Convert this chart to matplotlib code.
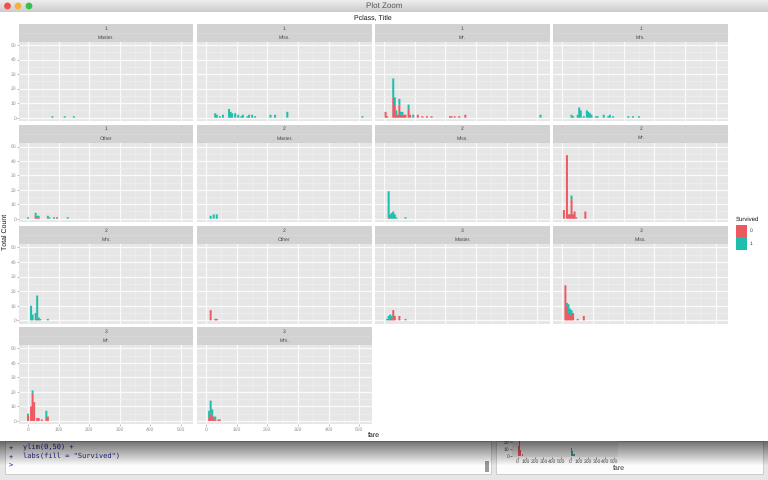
import numpy as np
import matplotlib
matplotlib.use("Agg")
import matplotlib.pyplot as plt
from matplotlib.patches import Rectangle, Circle

plt.rcParams['font.family'] = ['Liberation Sans', 'DejaVu Sans']
plt.rcParams['text.hinting'] = 'no_hinting'
plt.rcParams['text.hinting_factor'] = 1

W, H = 768, 480
RED, TEAL = '#EB5A63', '#1CBFAC'

# ---- data: fare bin, count died, count survived per panel ----
strip_class = ['1', '1', '1', '1', '1', '2', '2', '2', '2', '2', '3', '3', '3', '3']
strip_title = ['Master.', 'Miss.', 'Mr.', 'Mrs.', 'Other', 'Master.', 'Miss.', 'Mr.',
               'Mrs.', 'Other', 'Master.', 'Miss.', 'Mr.', 'Mrs.']

m1_fare = [80, 120, 150]
m1_died = [0, 0, 0]
m1_surv = [1, 1, 1]

ms1_fare = [30, 35, 45, 55, 75, 80, 85, 95, 105, 115, 120, 135, 140, 150, 160, 210, 225, 265, 510]
ms1_died = [0] * 19
ms1_surv = [3, 2, 1, 2, 6, 4, 3, 3, 2, 1, 2, 1, 2, 2, 1, 2, 2, 4, 1]

mr1_fare = [5, 10, 30, 35, 40, 45, 50, 55, 60, 65, 70, 80, 85, 95, 110, 125, 140, 155, 215, 220, 230, 245, 265, 510]
mr1_died = [4, 1, 14, 8, 2, 2, 9, 2, 2, 2, 2, 6, 2, 0, 2, 1, 1, 1, 1, 1, 1, 1, 2, 0]
mr1_surv = [0, 0, 13, 6, 3, 0, 4, 2, 2, 0, 0, 3, 0, 2, 0, 0, 0, 0, 0, 0, 0, 0, 0, 2]

mrs1_fare = [30, 35, 50, 55, 60, 70, 80, 85, 90, 95, 110, 115, 135, 150, 155, 165, 215, 230, 250]
mrs1_died = [0] * 19
mrs1_surv = [2, 1, 2, 7, 5, 1, 5, 4, 3, 2, 1, 1, 2, 1, 2, 1, 1, 1, 1]

o1_fare = [0, 25, 30, 35, 65, 70, 85, 95, 130]
o1_died = [0, 2, 1, 1, 1, 0, 0, 1, 0]
o1_surv = [1, 2, 1, 1, 1, 1, 1, 0, 1]

m2_fare = [15, 25, 35]
m2_died = [0, 0, 0]
m2_surv = [2, 3, 3]

ms2_fare = [15, 20, 25, 30, 35, 40, 70]
ms2_died = [1, 0, 0, 0, 0, 0, 0]
ms2_surv = [18, 3, 4, 5, 3, 1, 1]

mr2_fare = [5, 15, 20, 25, 30, 35, 40, 45, 75]
mr2_died = [6, 44, 3, 3, 13, 3, 5, 1, 5]
mr2_surv = [0, 0, 0, 0, 3, 0, 0, 0, 0]

mrs2_fare = [10, 15, 25, 30, 35, 40, 65]
mrs2_died = [0, 0, 1, 2, 0, 0, 0]
mrs2_surv = [10, 4, 4, 15, 2, 1, 1]

o2_fare = [15, 30, 35]
o2_died = [7, 1, 1]
o2_surv = [0, 0, 0]

m3_fare = [10, 15, 20, 25, 30, 35, 50, 70]
m3_died = [0, 0, 1, 2, 7, 3, 3, 0]
m3_surv = [1, 3, 3, 1, 0, 0, 0, 1]

ms3_fare = [10, 15, 20, 25, 30, 35, 50, 70]
ms3_died = [24, 10, 5, 3, 5, 5, 1, 3]
ms3_surv = [0, 2, 6, 5, 2, 0, 0, 0]

mr3_fare = [0, 10, 15, 20, 30, 35, 45, 60, 65]
mr3_died = [4, 10, 19, 13, 2, 2, 1, 2, 3]
mr3_surv = [1, 0, 2, 0, 0, 0, 0, 5, 0]

mrs3_fare = [10, 15, 20, 25, 30, 40, 45]
mrs3_died = [2, 5, 4, 2, 1, 1, 1]
mrs3_surv = [5, 9, 4, 1, 2, 0, 0]

panel_data = [
    (m1_fare, m1_died, m1_surv), (ms1_fare, ms1_died, ms1_surv),
    (mr1_fare, mr1_died, mr1_surv), (mrs1_fare, mrs1_died, mrs1_surv),
    (o1_fare, o1_died, o1_surv), (m2_fare, m2_died, m2_surv),
    (ms2_fare, ms2_died, ms2_surv), (mr2_fare, mr2_died, mr2_surv),
    (mrs2_fare, mrs2_died, mrs2_surv), (o2_fare, o2_died, o2_surv),
    (m3_fare, m3_died, m3_surv), (ms3_fare, ms3_died, ms3_surv),
    (mr3_fare, mr3_died, mr3_surv), (mrs3_fare, mrs3_died, mrs3_surv),
]

x_ticks = [0, 100, 200, 300, 400, 500]
y_ticks = [0, 10, 20, 30, 40, 50]
legend_labels = ['0', '1']

inset_fare_left = [10, 20, 30, 60]
inset_count_left = [14, 22, 8, 3]
inset_fare_right = [10, 20, 30, 40]
inset_count_right = [12, 7, 3, 2]

# ---- layout (pixels) ----
col_edges = [(19, 193.3), (197, 372), (375, 550), (553.3, 728.3)]
row_edges = [(24, 41.7, 121), (124.5, 143.2, 222), (225.7, 244, 323.7), (327, 345, 424.3)]

fig = plt.figure(figsize=(W / 100, H / 100), dpi=100, facecolor='white')


def axes_px(x0, y0, x1, y1, **kw):
    return fig.add_axes([x0 / W, 1 - y1 / H, (x1 - x0) / W, (y1 - y0) / H], **kw)


# ---- window chrome layer ----
bg = axes_px(0, 0, W, H, zorder=0)
bg.set_xlim(0, W)
bg.set_ylim(H, 0)
bg.axis('off')
bg.add_patch(Rectangle((0, 441), W, 39, fc='#E6E6E6', ec='none', zorder=1))
bg.add_patch(Rectangle((5, 441), 486, 33, fc='#FCFCFC', ec='#C8C8C8', lw=0.6, zorder=2))
bg.add_patch(Rectangle((496, 441), 267, 33, fc='#FCFCFC', ec='#C8C8C8', lw=0.6, zorder=2))
bg.add_patch(Rectangle((485, 461), 4, 11, fc='#9A9A9A', ec='none', zorder=3))

for y, s in [(447, 'ylim(0,50) +'), (456, 'labs(fill = "Survived")')]:
    bg.text(9, y, '+', family='DejaVu Sans Mono', fontsize=4.8, color='#22229A', va='center', zorder=3)
    bg.text(23, y, s, family='DejaVu Sans Mono', fontsize=4.8, color='#22229A', va='center', zorder=3)
bg.text(9, 466, '>', family='DejaVu Sans Mono', fontsize=4.8, color='#22229A', va='center', zorder=3)

for (x0, x1, fares, counts) in [(512, 565, inset_fare_left, inset_count_left),
                                (565, 618, inset_fare_right, inset_count_right)]:
    ia = axes_px(x0, 438, x1, 457, zorder=1)
    ia.set_facecolor('#EDEDED')
    ia.bar(fares, counts, width=12, color=RED if x0 == 512 else '#3F9C96', linewidth=0)
    ia.set_xlim(-66, 550)
    ia.set_ylim(-1.9, 26.4)
    ia.set_xticks(x_ticks)
    ia.tick_params(axis='x', labelsize=3.5, length=1.2, width=0.4, pad=0.8, colors='#444444')
    ia.set_yticks([0, 10, 20] if x0 == 512 else [])
    ia.tick_params(axis='y', labelsize=3.5, length=1.2, width=0.4, pad=0.8, colors='#444444')
    for s in ia.spines.values():
        s.set_visible(False)
bg.text(619, 468, 'fare', fontsize=5, color='#333333', ha='center', va='center', zorder=3)

# main window
top = axes_px(0, 0, W, H, zorder=2)
top.set_xlim(0, W)
top.set_ylim(H, 0)
top.axis('off')
top.patch.set_alpha(0)
top.add_patch(Rectangle((0, 0), W, 441, fc='white', ec='none'))
shade = np.linspace(0.55, 0.0, 30)[:, None]
rgba = np.zeros((30, 1, 4))
rgba[..., 3] = shade
top.imshow(rgba, extent=(0, W, 466, 441), aspect='auto', zorder=1)
top.set_xlim(0, W)
top.set_ylim(H, 0)
grad = np.linspace(0.93, 0.80, 24)[:, None]
top.imshow(grad, extent=(0, W, 12, 0), cmap='gray', vmin=0, vmax=1, aspect='auto', zorder=1)
top.set_xlim(0, W)
top.set_ylim(H, 0)
for cx, c in [(7.5, '#F2504B'), (18, '#F5B13D'), (29, '#35C24A')]:
    top.add_patch(Circle((cx, 6), 3.4, fc=c, ec='none', zorder=2))
top.text(384, 6, 'Plot Zoom', fontsize=5.6, color='#555555', ha='center', va='center', zorder=2)
top.text(373, 17.5, 'Pclass, Title', fontsize=5.3, color='#111111', ha='center', va='center')
top.text(373.5, 435.5, 'fare', fontsize=4.8, color='#111111', ha='center', va='center')
top.text(5.5, 232, 'Total Count', fontsize=4.8, color='#111111', rotation=90, ha='center', va='center')

# legend
top.text(736, 219.5, 'Survived', fontsize=4.5, color='#111111', ha='left', va='center')
for i, (lab, col) in enumerate(zip(legend_labels, [RED, TEAL])):
    top.add_patch(Rectangle((736, 225 + i * 12.4), 11.3, 12.4, fc=col, ec='none', zorder=2))
    top.text(750, 231 + i * 12.4, lab, fontsize=3.8, color='#333333', va='center')

# ---- panels ----
for k, (fare, died, surv) in enumerate(panel_data):
    r, c = divmod(k, 4)
    x0, x1 = col_edges[c]
    ys, yp, yb = row_edges[r]

    top.add_patch(Rectangle((x0, ys), x1 - x0, yp - ys, fc='#D2D2D2', ec='none', zorder=2))
    top.plot([x0, x1], [(ys + yp) / 2 + 0.3] * 2, color='#DCDCDC', lw=0.4, zorder=3)
    top.text((x0 + x1) / 2, ys + 4.6, strip_class[k], fontsize=3.4, color='#444444',
             ha='center', va='center', zorder=4)
    top.text((x0 + x1) / 2, ys + 13.7, strip_title[k], fontsize=3.4, color='#444444',
             ha='center', va='center', zorder=4)

    ax = axes_px(x0, yp, x1, yb, zorder=3)
    ax.set_facecolor('#E6E6E6')
    b1 = ax.bar(fare, died, width=6.5, color=RED, zorder=3, linewidth=0)
    b2 = ax.bar(fare, surv, bottom=died, width=6.5, color=TEAL, zorder=3, linewidth=0)
    for p in list(b1) + list(b2):
        p.set_snap(False)
    ax.set_xlim(-29.5, 541)
    ax.set_ylim(-2.3, 52.3)
    ax.set_xticks(x_ticks)
    ax.set_yticks(y_ticks)
    ax.set_xticks(np.array(x_ticks[:-1]) + 50, minor=True)
    ax.set_yticks(np.array(y_ticks[:-1]) + 5, minor=True)
    ax.grid(True, which='major', color='#FAFAFA', lw=0.9, zorder=1)
    ax.grid(True, which='minor', color='#F0F0F0', lw=0.5, zorder=1)
    ax.set_axisbelow(True)
    for s in ax.spines.values():
        s.set_visible(False)
    ax.tick_params(which='minor', length=0)
    ax.tick_params(axis='both', which='major', labelsize=3.6, length=1.2, width=0.4,
                   pad=0.8, colors='#8A8A8A')
    if c != 0:
        ax.tick_params(axis='y', which='major', length=0, labelleft=False)
    if k < 12:
        ax.tick_params(axis='x', which='major', length=0, labelbottom=False)

fig.savefig('out.png', dpi=100)
